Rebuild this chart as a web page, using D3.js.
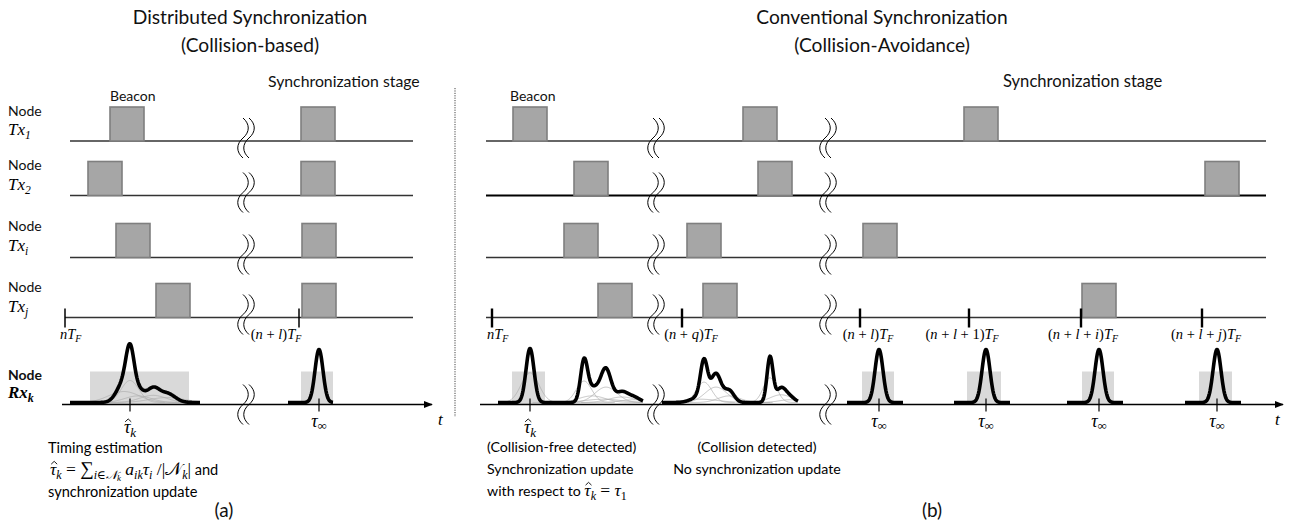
<!DOCTYPE html>
<html><head><meta charset="utf-8">
<script src="https://cdn.jsdelivr.net/npm/d3@7"></script>
<style>body{margin:0;background:#fff} svg{display:block}</style>
</head><body>
<svg id="c" width="1293" height="524"></svg>
<script>
// ---------------- DATA ----------------
const panelTitles = [["Distributed Synchronization", "(Collision-based)"],
                     ["Conventional Synchronization", "(Collision-Avoidance)"]];
const panelLetters = ["(a)", "(b)"];
const txNodes = ["1", "2", "i", "j"];
const beaconWidth = 34;                       // beacon duration (time units)
const leftBeaconStarts  = [[110, 301], [88, 301], [116, 302], [156, 302]];
const rightBeaconStarts = [[513, 743, 964], [574, 758, 1205], [564, 687, 863], [598, 703, 1082]];
const leftFrameTicks  = [65, 299];
const leftFrameLabels = ["nT", "(n + l)T"];
const leftFrameDx     = [-5, -23];
const rightFrameTicks  = [492, 682, 860, 969, 1081, 1202];
const rightFrameLabels = ["nT", "(n + q)T", "(n + l)T", "(n + l + 1)T", "(n + l + i)T", "(n + l + j)T"];
const rightFrameDx     = [-5, 9, 8, -7, 2, 4];
const leftBreaks  = [246];
const rightBreaks = [656, 828];
const leftWindows  = [[90, 189], [301, 333]];
const rightWindows = [[512, 545], [862, 894], [967, 1001], [1082, 1114], [1199, 1232]];
// received pulses: [arrival time, amplitude, spread]
const leftRx = [
  {from: 70,  to: 200, thin: true, pulses: [[130, 40, 4], [124, 20, 7], [138, 12, 6], [153, 13, 6], [167, 9, 8]]},
  {from: 288, to: 333, thin: false, pulses: [[319, 53, 4]]}
];
const rightRx = [
  {from: 498, to: 643, thin: true, pulses: [[530, 54, 4], [584, 39, 3.5], [592, 12, 6], [606, 28, 5], [603, 6, 8], [622, 10, 6], [634, 5, 6]]},
  {from: 662, to: 798, thin: true, pulses: [[704, 37, 3.5], [716, 28, 5], [729, 12, 5], [700, 6, 8], [770, 45, 3], [781, 14, 5], [790, 5, 5]]},
  {from: 847, to: 903, thin: false, pulses: [[879, 53, 4]]},
  {from: 954, to: 1010, thin: false, pulses: [[986, 53, 4]]},
  {from: 1067, to: 1123, thin: false, pulses: [[1099, 53, 4]]},
  {from: 1185, to: 1241, thin: false, pulses: [[1217, 53, 4]]}
];
const leftRxTicks  = [130, 319];
const leftRxLabels = ["hat", "inf"];
const rightRxTicks  = [530, 879, 986, 1099, 1217];
const rightRxLabels = ["hat", "inf", "inf", "inf", "inf"];

// ---------------- LAYOUT ----------------
const svg = d3.select("#c");
const W = 1293, H = 524;
const x = d3.scaleLinear().domain([0, W]).range([0, W]);
const rowKeys = ["1", "2", "i", "j", "rx"];
const rowY = d3.scaleOrdinal().domain(rowKeys).range([141, 195.5, 257.5, 317.5, 404.5]);
const amp = d3.scaleLinear().domain([0, 60]).range([0, 60]);
const SANS = "Lato, 'Open Sans', sans-serif";
const SERIF = "'Liberation Serif', 'DejaVu Serif', serif";

function mathText(g, str, sub, size) {
  const t = g.append("text").attr("font-family", SERIF).attr("font-size", size).attr("fill", "#000");
  const runs = str.match(/([A-Za-zτ]+|[^A-Za-zτ]+)/g) || [];
  runs.forEach(r => {
    t.append("tspan").text(r).attr("font-style", /[A-Za-zτ]/.test(r) ? "italic" : "normal");
  });
  if (sub) t.append("tspan").text(sub).attr("font-style", "italic")
            .attr("font-size", size * 0.68).attr("dy", size * 0.25);
  return t;
}
// draw a circumflex (as a small path) over a tspan, measured after layout
function hatOver(tspan, size) {
  const n = tspan.node();
  const p = n.getStartPositionOfChar(0);
  const w = n.getComputedTextLength();
  const cx = p.x + w / 2 + size * 0.06, top = p.y - size * 0.78, h = size * 0.16;
  svg.append("path").attr("d", `M${cx - size * 0.17},${top + h} L${cx},${top} L${cx + size * 0.17},${top + h}`)
    .attr("fill", "none").attr("stroke", "#000").attr("stroke-width", 0.9);
}

// Titles
const titleX = [250, 882];
panelTitles.forEach((lines, i) => {
  lines.forEach((s, j) => {
    svg.append("text").attr("x", titleX[i]).attr("y", 24 + j * 27.5)
      .attr("text-anchor", "middle").attr("font-family", SANS).attr("font-size", 19.2)
      .attr("fill", "#111").text(s);
  });
});
panelLetters.forEach((s, i) => {
  svg.append("text").attr("x", [224, 932][i]).attr("y", 517).attr("text-anchor", "middle")
    .attr("font-family", SANS).attr("font-size", 19).attr("fill", "#111").text(s);
});

// divider
svg.append("line").attr("x1", 455).attr("x2", 455).attr("y1", 88).attr("y2", 417)
  .attr("stroke", "#444").attr("stroke-width", 1).attr("stroke-dasharray", "1.2,1.2");

// Stage labels
[["Beacon", 110, 101, 14], ["Synchronization stage", 268, 87, 15.8], ["Beacon", 510, 101, 14], ["Synchronization stage", 1003, 87, 16.6]]
  .forEach(([s, xx, yy, fs]) => svg.append("text").attr("x", x(xx)).attr("y", yy)
    .attr("font-family", SANS).attr("font-size", fs).attr("fill", "#111").text(s));

// Node labels (left)
const nodeLblY = {"1": [116, 135], "2": [170, 190], "i": [231, 251], "j": [292, 312]};
txNodes.forEach(k => {
  svg.append("text").attr("x", 8).attr("y", nodeLblY[k][0]).attr("font-family", SANS)
    .attr("font-size", 14).attr("fill", "#111").text("Node");
  const t = mathText(svg, "Tx", k, 17);
  t.attr("x", 8).attr("y", nodeLblY[k][1]);
});
svg.append("text").attr("x", 8).attr("y", 380).attr("font-family", SANS).attr("font-weight", "bold")
  .attr("font-size", 14).attr("fill", "#111").text("Node");
{
  const t = svg.append("text").attr("x", 8).attr("y", 398).attr("font-family", SERIF)
    .attr("font-weight", "bold").attr("font-style", "italic").attr("font-size", 17);
  t.append("tspan").text("Rx");
  t.append("tspan").text("k").attr("font-size", 12).attr("dy", 4);
}

// Tx rows
function drawTx(starts, x0, x1, rightPanel) {
  txNodes.forEach((k, i) => {
    const y = rowY(k);
    svg.append("line").attr("x1", x(k === "j" && !rightPanel ? 65 : x0)).attr("x2", x(x1))
      .attr("y1", y).attr("y2", y)
      .attr("stroke", rightPanel && k === "2" ? "#000" : "#333")
      .attr("stroke-width", rightPanel && k === "2" ? 2.2 : 1.4);
    starts[i].forEach(s => {
      svg.append("rect").attr("x", x(s)).attr("y", y - 34)
        .attr("width", x(s + beaconWidth) - x(s)).attr("height", 34)
        .attr("fill", "#a6a6a6").attr("stroke", "#7f7f7f").attr("stroke-width", 1.6);
    });
  });
}
drawTx(leftBeaconStarts, 70, 413, false);
drawTx(rightBeaconStarts, 486, 1266, true);

// frame ticks + labels
function frameTicks(ticks, labels, dxs, width) {
  const y = rowY("j");
  ticks.forEach((t, i) => {
    svg.append("line").attr("x1", x(t)).attr("x2", x(t)).attr("y1", y - 9).attr("y2", y + 10)
      .attr("stroke", "#000").attr("stroke-width", width);
    const lbl = mathText(svg, labels[i], "F", 14.5);
    lbl.attr("y", y + 21);
    lbl.attr("x", x(t) + dxs[i]).attr("text-anchor", i === 0 ? "start" : "middle");
  });
}
frameTicks(leftFrameTicks, leftFrameLabels, leftFrameDx, 1.5);
frameTicks(rightFrameTicks, rightFrameLabels, rightFrameDx, 2.4);

// Rx windows
const ry = rowY("rx");
leftWindows.concat(rightWindows).forEach(([a, b]) => {
  svg.append("rect").attr("x", x(a)).attr("y", ry - 33).attr("width", x(b) - x(a)).attr("height", 33)
    .attr("fill", "#d9d9d9");
});

// Rx axes with arrows
svg.append("defs").append("marker").attr("id", "arr").attr("viewBox", "0 0 10 10")
  .attr("refX", 9).attr("refY", 5).attr("markerWidth", 9).attr("markerHeight", 9)
  .attr("markerUnits", "userSpaceOnUse").attr("orient", "auto")
  .append("path").attr("d", "M0,1 L10,5 L0,9 Z").attr("fill", "#000");
[[62, 432], [480, 1283]].forEach(([a, b]) => {
  svg.append("line").attr("x1", x(a)).attr("x2", x(b)).attr("y1", ry).attr("y2", ry)
    .attr("stroke", "#000").attr("stroke-width", 1.4).attr("marker-end", "url(#arr)");
});
[[438, "t"], [1275, "t"]].forEach(([xx, s]) => svg.append("text").attr("x", x(xx)).attr("y", 425)
  .attr("font-family", SERIF).attr("font-style", "italic").attr("font-size", 17).text(s));

// pulses
const line = d3.line().x(d => x(d[0])).y(d => ry - 2 - amp(d[1]));
function pulseVal(p, t) { return p[1] * Math.exp(-((t - p[0]) ** 2) / (2 * p[2] * p[2])); }
function drawRx(segs) {
  segs.forEach(seg => {
    const ts = d3.range(seg.from, seg.to + 0.01, 0.5);
    if (seg.thin) {
      seg.pulses.forEach(p => {
        const spread = p[2] * 2.2;
        const pts = d3.range(Math.max(seg.from, p[0] - 4 * spread), Math.min(seg.to, p[0] + 4 * spread), 0.5)
          .map(t => [t, pulseVal([p[0], p[1] * 0.55, spread], t)]);
        svg.append("path").attr("d", line(pts)).attr("fill", "none").attr("stroke", "#aaa").attr("stroke-width", 0.7);
      });
    }
    const pts = ts.map(t => [t, d3.sum(seg.pulses, p => pulseVal(p, t))]);
    svg.append("path").attr("d", line(pts)).attr("fill", "none").attr("stroke", "#000")
      .attr("stroke-width", 3.6).attr("stroke-linejoin", "round").attr("stroke-linecap", "butt");
  });
}
drawRx(leftRx);
drawRx(rightRx);

// Rx ticks and tau labels
function tauTicks(ticks, labels) {
  ticks.forEach((t, i) => {
    svg.append("line").attr("x1", x(t)).attr("x2", x(t)).attr("y1", ry - 6).attr("y2", ry + 7)
      .attr("stroke", "#000").attr("stroke-width", 1.2);
    const isHat = labels[i] === "hat";
    const tx = svg.append("text").attr("x", x(t)).attr("y", isHat ? 433 : 427)
      .attr("text-anchor", "middle").attr("font-family", SERIF).attr("font-size", 18);
    const tau = tx.append("tspan").text("\u03C4").attr("font-style", "italic");
    if (isHat) {
      tx.append("tspan").text("k").attr("font-style", "italic").attr("font-size", 13).attr("dy", 4);
      hatOver(tau, 18);
    } else {
      tx.append("tspan").text("\u221E").attr("font-size", 13).attr("dy", 3);
    }
  });
}
tauTicks(leftRxTicks, leftRxLabels);
tauTicks(rightRxTicks, rightRxLabels);

// break symbols
function breakMark(cx, cy) {
  [-3, 3].forEach(o => {
    const xx = x(cx) + o, h = 20;
    svg.append("path")
      .attr("d", `M${xx},${cy - h} C${xx + 7},${cy - h + 6} ${xx + 7},${cy - 6} ${xx},${cy} C${xx - 7},${cy + 6} ${xx - 7},${cy + h - 6} ${xx},${cy + h}`)
      .attr("fill", "none").attr("stroke", "#000").attr("stroke-width", 1);
  });
}
rowKeys.forEach(k => {
  leftBreaks.forEach(b => breakMark(b, rowY(k) - (k === "rx" ? 0 : 3)));
  rightBreaks.forEach(b => breakMark(b, rowY(k) - (k === "rx" ? 0 : 3)));
});

// Left annotation text
svg.append("text").attr("x", 48).attr("y", 453).attr("font-family", SANS).attr("font-size", 14.6).text("Timing estimation");
{
  const t = svg.append("text").attr("x", 50).attr("y", 475).attr("font-family", SERIF).attr("font-size", 17.5);
  const tau = t.append("tspan").text("\u03C4").attr("font-style", "italic");
  t.append("tspan").text("k").attr("font-style", "italic").attr("font-size", 12).attr("dy", 4);
  t.append("tspan").text(" = ").attr("dy", -4);
  t.append("tspan").text("\u2211").attr("font-size", 19);
  t.append("tspan").text("i\u2208\uD835\uDCA9").attr("font-style", "italic").attr("font-size", 12).attr("dy", 4);
  t.append("tspan").text("k").attr("font-style", "italic").attr("font-size", 9).attr("dy", 2);
  t.append("tspan").text(" a").attr("font-style", "italic").attr("dy", -6);
  t.append("tspan").text("ik").attr("font-style", "italic").attr("font-size", 12).attr("dy", 4);
  t.append("tspan").text("\u03C4").attr("font-style", "italic").attr("dy", -4);
  t.append("tspan").text("i").attr("font-style", "italic").attr("font-size", 12).attr("dy", 4);
  t.append("tspan").text(" /|\uD835\uDCA9").attr("dy", -4);
  t.append("tspan").text("k").attr("font-style", "italic").attr("font-size", 12).attr("dy", 4);
  t.append("tspan").text("|").attr("dy", -4);
  t.append("tspan").text(" and").attr("font-family", SANS).attr("font-size", 14.6);
  hatOver(tau, 17.5);
}
svg.append("text").attr("x", 48).attr("y", 497).attr("font-family", SANS).attr("font-size", 14.6).text("synchronization update");

// Right annotation text
svg.append("text").attr("x", 487).attr("y", 452).attr("font-family", SANS).attr("font-size", 14.2).text("(Collision-free detected)");
svg.append("text").attr("x", 487).attr("y", 474).attr("font-family", SANS).attr("font-size", 14.2).text("Synchronization update");
{
  const t = svg.append("text").attr("x", 487).attr("y", 496).attr("font-family", SANS).attr("font-size", 14.2);
  t.append("tspan").text("with respect to ");
  const tau = t.append("tspan").text("\u03C4").attr("font-family", SERIF).attr("font-style", "italic").attr("font-size", 17.5);
  t.append("tspan").text("k").attr("font-family", SERIF).attr("font-style", "italic").attr("font-size", 12).attr("dy", 4);
  t.append("tspan").text(" = ").attr("font-family", SERIF).attr("font-size", 17.5).attr("dy", -4);
  t.append("tspan").text("\u03C4").attr("font-family", SERIF).attr("font-style", "italic").attr("font-size", 17.5);
  t.append("tspan").text("1").attr("font-family", SERIF).attr("font-size", 12).attr("dy", 4);
  hatOver(tau, 17.5);
}
svg.append("text").attr("x", 757).attr("y", 452).attr("text-anchor", "middle").attr("font-family", SANS).attr("font-size", 14.2).text("(Collision detected)");
svg.append("text").attr("x", 757).attr("y", 474).attr("text-anchor", "middle").attr("font-family", SANS).attr("font-size", 14.2).text("No synchronization update");
</script>
</body></html>
